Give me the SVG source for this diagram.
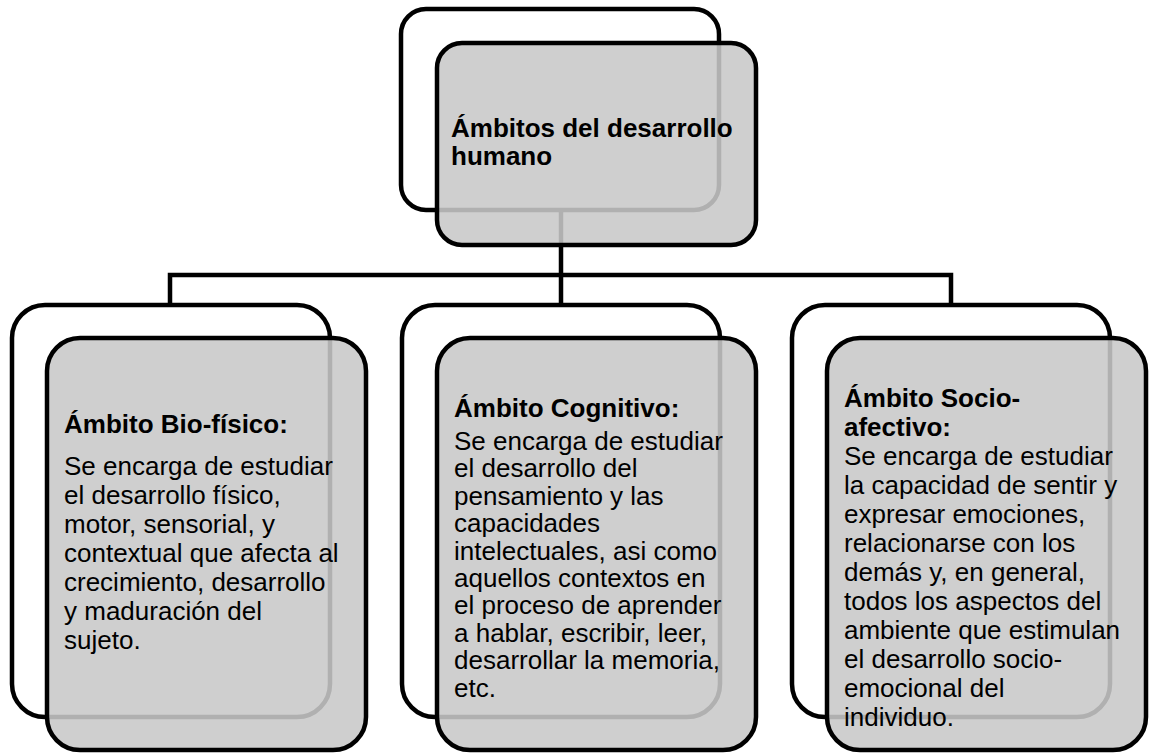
<svg xmlns="http://www.w3.org/2000/svg" width="1151" height="753" viewBox="0 0 1151 753">
<style>
.back{fill:#ffffff;stroke:#000;stroke-width:4.5}
.front{fill:#c8c8c8;fill-opacity:0.88;stroke:#000;stroke-width:4.5}
.conn{fill:none;stroke:#000;stroke-width:4.5}
.h{font-family:"Liberation Sans",Arial,sans-serif;font-weight:bold;font-size:26px;fill:#000}
.t{font-family:"Liberation Sans",Arial,sans-serif;font-size:26px;fill:#000}
</style>
<rect width="1151" height="753" fill="#fff"/>
<g id="root-back">
<rect class="back" x="401" y="9" width="318" height="201" rx="25"/>
</g>
<g id="connectors">
<path class="conn" d="M561,210 V275"/>
<path class="conn" d="M170,305 V275 H951 V305"/>
<path class="conn" d="M561,275 V305"/>
</g>
<g id="root">
<rect class="front" x="437" y="43" width="319" height="202" rx="25"/>
<text class="h" x="451" y="137">Ámbitos del desarrollo</text>
<text class="h" x="451" y="165">humano</text>
</g>
<g id="bio">
<rect class="back" x="12" y="305" width="318" height="412" rx="33"/>
<rect class="front" x="47" y="338" width="319" height="412" rx="33"/>
<text class="h" x="64" y="433">Ámbito Bio-físico:</text>
<text class="t" x="64" y="475">Se encarga de estudiar</text>
<text class="t" x="64" y="504">el desarrollo físico,</text>
<text class="t" x="64" y="533">motor, sensorial, y</text>
<text class="t" x="64" y="562">contextual que afecta al</text>
<text class="t" x="64" y="591">crecimiento, desarrollo</text>
<text class="t" x="64" y="620">y maduración del</text>
<text class="t" x="64" y="649">sujeto.</text>
</g>
<g id="cog">
<rect class="back" x="402" y="305" width="318" height="412" rx="33"/>
<rect class="front" x="437" y="338" width="319" height="412" rx="33"/>
<text class="h" x="454" y="417">Ámbito Cognitivo:</text>
<text class="t" x="454" y="450">Se encarga de estudiar</text>
<text class="t" x="454" y="477.4">el desarrollo del</text>
<text class="t" x="454" y="504.8">pensamiento y las</text>
<text class="t" x="454" y="532.2">capacidades</text>
<text class="t" x="454" y="559.6">intelectuales, asi como</text>
<text class="t" x="454" y="587">aquellos contextos en</text>
<text class="t" x="454" y="614.4">el proceso de aprender</text>
<text class="t" x="454" y="641.8">a hablar, escribir, leer,</text>
<text class="t" x="454" y="669.2">desarrollar la memoria,</text>
<text class="t" x="454" y="696.6">etc.</text>
</g>
<g id="socio">
<rect class="back" x="792" y="305" width="318" height="412" rx="33"/>
<rect class="front" x="827" y="338" width="319" height="412" rx="33"/>
<text class="h" x="844" y="407">Ámbito Socio-</text>
<text class="h" x="844" y="436">afectivo:</text>
<text class="t" x="844" y="465">Se encarga de estudiar</text>
<text class="t" x="844" y="494">la capacidad de sentir y</text>
<text class="t" x="844" y="523">expresar emociones,</text>
<text class="t" x="844" y="552">relacionarse con los</text>
<text class="t" x="844" y="581">demás y, en general,</text>
<text class="t" x="844" y="610">todos los aspectos del</text>
<text class="t" x="844" y="639">ambiente que estimulan</text>
<text class="t" x="844" y="668">el desarrollo socio-</text>
<text class="t" x="844" y="697">emocional del</text>
<text class="t" x="844" y="726">individuo.</text>
</g>
</svg>
